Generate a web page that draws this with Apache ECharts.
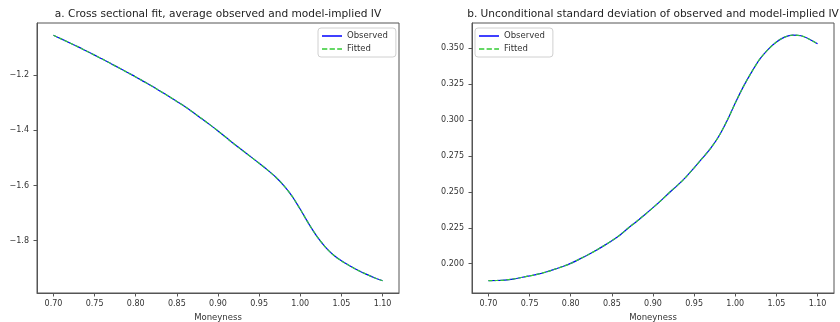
<!DOCTYPE html>
<html>
<head>
<meta charset="utf-8">
<script src="https://cdn.jsdelivr.net/npm/echarts@6/dist/echarts.min.js"></script>
<style>
html,body{margin:0;padding:0;background:#fff;}
#chart{width:840px;height:322px;}
</style>
</head>
<body>
<div id="chart"></div>
<script>
// Moneyness grid
const moneyness = [0.70,0.71,0.72,0.73,0.74,0.75,0.76,0.77,0.78,0.79,0.80,0.81,0.82,0.83,0.84,0.85,0.86,0.87,0.88,0.89,0.90,0.91,0.92,0.93,0.94,0.95,0.96,0.97,0.98,0.99,1.00,1.01,1.02,1.03,1.04,1.05,1.06,1.07,1.08,1.09,1.10];

// Panel a: average observed and model-implied IV
const observedA = [-1.055,-1.069,-1.083,-1.097,-1.112,-1.127,-1.142,-1.158,-1.174,-1.190,-1.206,-1.223,-1.240,-1.258,-1.276,-1.295,-1.314,-1.335,-1.357,-1.379,-1.402,-1.426,-1.450,-1.473,-1.496,-1.519,-1.543,-1.569,-1.600,-1.638,-1.686,-1.737,-1.783,-1.821,-1.851,-1.873,-1.891,-1.907,-1.921,-1.934,-1.945];
const fittedA   = [-1.055,-1.069,-1.083,-1.097,-1.112,-1.127,-1.142,-1.158,-1.174,-1.190,-1.206,-1.223,-1.240,-1.258,-1.276,-1.295,-1.314,-1.335,-1.357,-1.379,-1.402,-1.426,-1.450,-1.473,-1.496,-1.519,-1.543,-1.569,-1.600,-1.638,-1.686,-1.737,-1.783,-1.821,-1.851,-1.873,-1.891,-1.907,-1.921,-1.934,-1.945];

// Panel b: unconditional standard deviation
const observedB = [0.1882,0.1883,0.1886,0.1893,0.1904,0.1915,0.1927,0.1942,0.1960,0.1980,0.2002,0.2030,0.2059,0.2090,0.2124,0.2160,0.2200,0.2248,0.2294,0.2341,0.2390,0.2441,0.2495,0.2547,0.2603,0.2667,0.2734,0.2803,0.2887,0.2995,0.3118,0.3234,0.3335,0.3425,0.3492,0.3543,0.3577,0.3591,0.3586,0.3562,0.3530];
const fittedB   = [0.1882,0.1883,0.1886,0.1893,0.1904,0.1915,0.1927,0.1942,0.1960,0.1980,0.2002,0.2030,0.2059,0.2090,0.2124,0.2160,0.2200,0.2248,0.2294,0.2341,0.2390,0.2441,0.2495,0.2547,0.2603,0.2667,0.2734,0.2803,0.2887,0.2995,0.3118,0.3234,0.3335,0.3425,0.3492,0.3543,0.3577,0.3591,0.3586,0.3562,0.3530];

// Tick labels
const xTicks = [0.70,0.75,0.80,0.85,0.90,0.95,1.00,1.05,1.10];
const yTicksA = [-1.8,-1.6,-1.4,-1.2];
const yTicksB = [0.200,0.225,0.250,0.275,0.300,0.325,0.350];

const titleA = 'a. Cross sectional fit, average observed and model-implied IV';
const titleB = 'b. Unconditional standard deviation of observed and model-implied IV';
const xName = 'Moneyness';
const seriesNames = ['Observed','Fitted'];

const FONT = 'DejaVu Sans';
const axisCol = '#555';
const textCol = '#333';
const BLUE = '#0000ff';
const GREEN = '#33cc33';

function pairs(xs, ys){ return xs.map((x,i)=>[x, ys[i]]); }

function xAxisDef(gi){
  return {
    type:'value', gridIndex:gi, min:0.68, max:1.12,
    name:xName, nameLocation:'middle', nameGap:18,
    nameTextStyle:{fontFamily:FONT,fontSize:8.5,color:textCol},
    axisLine:{show:true,onZero:false,lineStyle:{color:axisCol,width:1}},
    axisTick:{show:true,length:3.5,customValues:xTicks,lineStyle:{color:axisCol}},
    axisLabel:{show:true,margin:7,customValues:xTicks,fontFamily:FONT,fontSize:8,color:textCol,
      formatter:v=>v.toFixed(2)},
    splitLine:{show:false}
  };
}
function yAxisDef(gi,min,max,ticks,fmt){
  return {
    type:'value', gridIndex:gi, min:min, max:max,
    axisLine:{show:true,onZero:false,lineStyle:{color:axisCol,width:1}},
    axisTick:{show:true,length:3.5,customValues:ticks,lineStyle:{color:axisCol}},
    axisLabel:{show:true,margin:8,customValues:ticks,fontFamily:FONT,fontSize:8,color:textCol,formatter:fmt},
    splitLine:{show:false}
  };
}
function lineSeries(name,gi,data,color,dashed){
  return {
    name:name, type:'line', xAxisIndex:gi, yAxisIndex:gi,
    data:data, showSymbol:false, symbol:'none', smooth:0.3,
    lineStyle:{color:color,width:1.2,type:dashed?[4,2]:'solid'},
    itemStyle:{color:color},
    animation:false, z: dashed?3:2
  };
}
const solidIcon = 'path://M0,0h20v1.5h-20z';
const dashIcon = 'path://M0,0h5.3v1.5h-5.3zM7.6,0h5.3v1.5h-5.3zM15.2,0h4.8v1.5h-4.8z';
function legendDef(left){
  return {
    left:left, top:28, orient:'vertical',
    data:[
      {name:seriesNames[0],icon:solidIcon,itemStyle:{color:BLUE}},
      {name:seriesNames[1],icon:dashIcon,itemStyle:{color:GREEN}}
    ],
    itemWidth:20, itemHeight:2, itemGap:3,
    backgroundColor:'#fff', borderColor:'#d0d0d0', borderWidth:1, borderRadius:3,
    padding:[3,8,3,4],
    textStyle:{fontFamily:FONT,fontSize:8.5,color:textCol,lineHeight:10},
    selectedMode:false
  };
}

const chart = echarts.init(document.getElementById('chart'), null, {renderer:'canvas'});
chart.setOption({
  backgroundColor:'#fff',
  animation:false,
  title:[
    {text:titleA,left:218,top:8.5,padding:0,textAlign:'center',textStyle:{fontFamily:FONT,fontSize:10.6,fontWeight:'normal',color:'#222'}},
    {text:titleB,left:653,top:8.5,padding:0,textAlign:'center',textStyle:{fontFamily:FONT,fontSize:10.6,fontWeight:'normal',color:'#222'}}
  ],
  legend:[legendDef(318),legendDef(475)],
  grid:[
    {left:37,top:23,width:362,height:270,show:true,borderColor:axisCol,borderWidth:1,backgroundColor:'transparent',outerBoundsMode:'none',containLabel:false},
    {left:472,top:23,width:362,height:270,show:true,borderColor:axisCol,borderWidth:1,backgroundColor:'transparent',outerBoundsMode:'none',containLabel:false}
  ],
  xAxis:[xAxisDef(0),xAxisDef(1)],
  yAxis:[
    yAxisDef(0,-1.9895,-1.0105,yTicksA,v=>(v<0?'\u2212':'')+Math.abs(v).toFixed(1)),
    yAxisDef(1,0.1796,0.3675,yTicksB,v=>v.toFixed(3))
  ],
  series:[
    lineSeries(seriesNames[0],0,pairs(moneyness,observedA),BLUE,false),
    lineSeries(seriesNames[1],0,pairs(moneyness,fittedA),GREEN,true),
    lineSeries(seriesNames[0],1,pairs(moneyness,observedB),BLUE,false),
    lineSeries(seriesNames[1],1,pairs(moneyness,fittedB),GREEN,true)
  ]
});
</script>
</body>
</html>
